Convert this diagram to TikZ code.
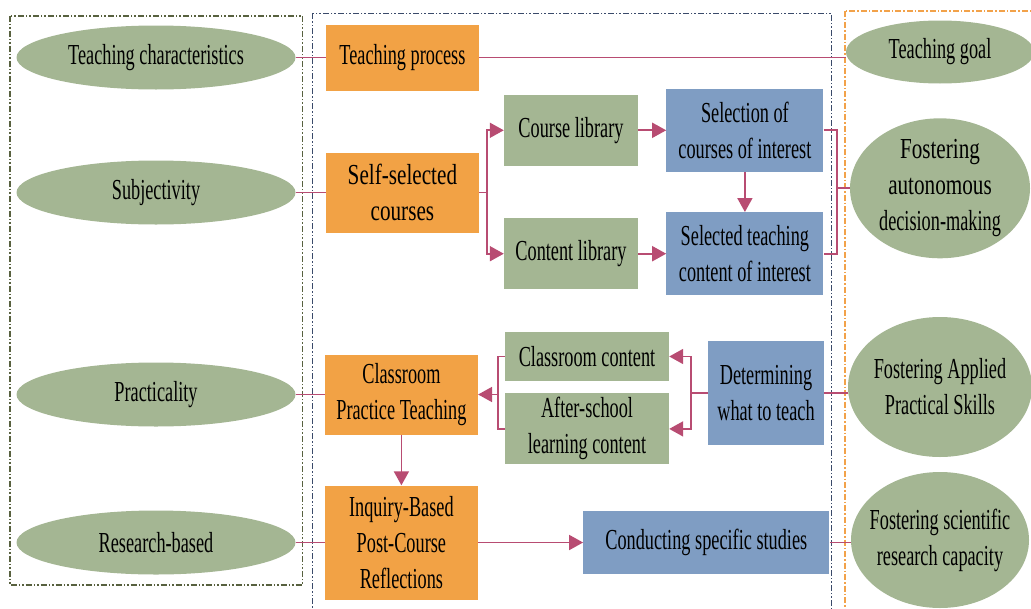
\documentclass[tikz,border=0pt]{standalone}
\usepackage{fontspec}
\setmainfont{Liberation Serif}[FakeStretch=0.63]
\newfontfamily\widefont{Liberation Serif}[FakeStretch=0.73]
\usepackage{tikz}
\usetikzlibrary{positioning}
\usetikzlibrary{shapes.geometric, arrows.meta}
\definecolor{traitgreen}{HTML}{A4B693}
\definecolor{procorange}{HTML}{F2A245}
\definecolor{taskblue}{HTML}{7F9DC3}
\definecolor{linkpink}{HTML}{B84C72}
\definecolor{frameolive}{HTML}{58613F}
\definecolor{framenavy}{HTML}{3A4A6A}
\definecolor{frameorange}{HTML}{F2A24A}
\tikzstyle{txt} = [font=\fontsize{29}{36}\selectfont,align=center]
\tikzstyle{trait} = [txt,ellipse,fill=traitgreen,inner sep=0pt,minimum width=279pt,minimum height=64pt]
\tikzstyle{goal} = [txt,ellipse,fill=traitgreen,inner xsep=-25pt,inner ysep=-6pt]
\tikzstyle{proc} = [txt,rectangle,fill=procorange,inner sep=2pt,minimum width=153pt]
\tikzstyle{lib} = [txt,rectangle,fill=traitgreen,inner sep=2pt]
\tikzstyle{task} = [txt,rectangle,fill=taskblue,inner sep=2pt]
\tikzstyle{panel} = [line width=1.6pt]
\tikzstyle{link} = [draw=linkpink,line width=1.8pt]
\tikzstyle{arrow} = [link,-{Triangle[length=14pt,width=15pt]}]

\begin{document}
\begin{tikzpicture}[x=1pt,y=1pt]
				\useasboundingbox (0,0) rectangle (1031,-608);
				%Frames
				\draw [panel,frameolive,dash pattern=on 6pt off 2pt on 1.5pt off 2pt on 1.5pt off 2pt] (10,-15.7) rectangle (302.5,-585);
				\draw [panel,framenavy,dash pattern=on 6pt off 2pt on 1.5pt off 2pt on 1.5pt off 2pt] (312.5,-13.3) rectangle (831.5,-620);
				\draw [panel,frameorange,dash pattern=on 6pt off 2pt on 1.5pt off 2pt] (845,-10.7) rectangle (1040,-620);
				
				%Nodes
				\node [trait] (tc) at (156,-57.5) {Teaching characteristics};
				\node [trait] (subj) at (156,-192.5) {Subjectivity};
				\node [trait] (prac) at (156,-394.5) {Practicality};
				\node [trait] (resb) at (156,-542.5) {Research-based};
				
				\node [proc,minimum height=66pt,right=30pt of tc] (tp) {Teaching process};
				\node [proc,minimum height=80pt,right=30pt of subj] (ssc) {\widefont Self-selected\\\widefont courses};
				\node [proc,minimum height=80pt,right=29pt of prac] (cpt) {Classroom\\Practice Teaching};
				\node [proc,minimum height=114pt,right=29pt of resb] (ibr) {Inquiry-Based\\Post-Course\\Reflections};
				
				\node [lib,minimum width=134pt,minimum height=71pt] (cl) at (571,-130.3) {Course library};
				\node [lib,minimum width=134pt,minimum height=71pt,below=52pt of cl] (col) {Content library};
				\node [task,minimum width=157pt,minimum height=83pt,right=28pt of cl] (sel) {Selection of\\courses of interest};
				\node [task,minimum width=157pt,minimum height=83pt,right=28pt of col] (stc) {Selected teaching\\content of interest};
				
				\node [lib,minimum width=164pt,minimum height=49pt] (cc) at (587,-356.5) {Classroom content};
				\node [lib,minimum width=164pt,minimum height=71pt,below=12pt of cc] (asc) {After-school\\learning content};
				\node [task,minimum width=116pt,minimum height=104pt] (dwt) at (766,-393) {Determining\\what to teach};
				\node [task,minimum width=246pt,minimum height=63pt,right=105pt of ibr] (css) {Conducting specific studies};
				
				\node [goal,minimum width=188pt,minimum height=63pt] (tg) at (940,-52) {Teaching goal};
				\node [goal,minimum width=180pt,minimum height=140pt] (fad) at (940,-188.3) {\widefont Fostering\\\widefont autonomous\\decision-making};
				\node [goal,minimum width=184pt,minimum height=140pt] (fap) at (940,-387) {Fostering Applied\\Practical Skills};
				\node [goal,minimum width=178pt,minimum height=136pt] (fsr) at (940,-540) {Fostering scientific\\research capacity};
				
				%Lines
				\draw [link] (tc.east) -- (tp.west);
				\draw [link] (tp.east) -- (tp.east -| tg.west);
				
				\draw [link] (subj.east) -- (subj.east -| ssc.west);
				\draw [arrow] (ssc.east) -- ++(8,0) |- (cl.west);
				\draw [arrow] (ssc.east) -- ++(8,0) |- (col.west);
				\draw [arrow] (cl) -- (sel);
				\draw [arrow] (col) -- (stc);
				\draw [arrow] (sel) -- (stc);
				\coordinate (jr) at (837,-188.3);
				\draw [link] (sel.east) -| (jr) |- (stc.east);
				\draw [link] (jr) -- (jr -| fad.west);
				
				\draw [link] (prac.east) -- (prac.east -| cpt.west);
				\coordinate [left=17pt of dwt.west] (jd);
				\draw [link] (dwt.west) -- (jd);
				\draw [arrow] (jd) |- (cc.east);
				\draw [arrow] (jd) |- (asc.east);
				\coordinate [right=20pt of cpt.east] (jc);
				\draw [link] (cc.west) -| (jc) |- (asc.west);
				\draw [arrow] (jc) -- (cpt.east);
				\draw [link] (dwt.east) -- (dwt.east -| fap.west);
				
				\draw [arrow] (cpt) -- (ibr);
				\draw [link] (resb.east) -- (resb.east -| ibr.west);
				\draw [arrow] (ibr.east) -- (ibr.east -| css.west);
				\draw [link] (css.east) -- (css.east -| fsr.west);
			\end{tikzpicture}
\end{document}
